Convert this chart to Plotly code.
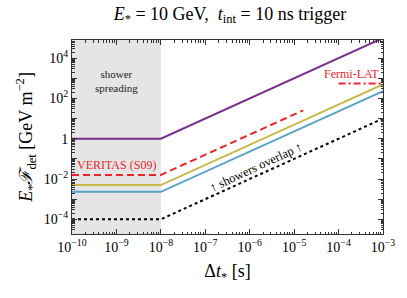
import plotly.graph_objects as go

# ---- data ----
t_nodes = [1e-10, 1e-8, 1e-3]
purple_vals = [1.0, 1.0, 1e5]
yellow_vals = [5e-3, 5e-3, 5e2]
blue_vals = [2.3e-3, 2.3e-3, 2.3e2]
overlap_vals = [1e-4, 1e-4, 10.0]

veritas_t = [1e-10, 1e-8, 1.6e-5]
veritas_vals = [1.6e-2, 1.6e-2, 25.6]

fermi_t = [1e-4, 1e-3]
fermi_vals = [550.0, 550.0]

shade_t = [1e-10, 1e-8]
shade_y = [1e-8, 1e8]

x_tick_exps = [-10, -9, -8, -7, -6, -5, -4, -3]
x_tick_text = ["10<sup>−10</sup>", "10<sup>−9</sup>", "10<sup>−8</sup>", "10<sup>−7</sup>",
               "10<sup>−6</sup>", "10<sup>−5</sup>", "10<sup>−4</sup>", "10<sup>−3</sup>"]
y_tick_exps = [-4, -3, -2, -1, 0, 1, 2, 3, 4]
y_tick_text = ["10<sup>−4</sup>", "", "10<sup>−2</sup>", "", "1", "", "10<sup>2</sup>", "", "10<sup>4</sup>"]

PURPLE = "#7B2D8E"
YELLOW = "#C8B84A"
BLUE = "#5BA3C6"
RED = "#E8262A"
SERIF = "Liberation Serif"

fig = go.Figure()

# shaded "shower spreading" region
fig.add_trace(go.Scatter(
    x=[shade_t[0], shade_t[1], shade_t[1], shade_t[0], shade_t[0]],
    y=[shade_y[0], shade_y[0], shade_y[1], shade_y[1], shade_y[0]],
    fill="toself", fillcolor="#E5E5E5", line=dict(width=0), mode="lines",
    hoverinfo="skip", showlegend=False))

fig.add_trace(go.Scatter(x=t_nodes, y=purple_vals, mode="lines",
                         line=dict(color=PURPLE, width=2), showlegend=False))
fig.add_trace(go.Scatter(x=t_nodes, y=yellow_vals, mode="lines",
                         line=dict(color=YELLOW, width=2), showlegend=False))
fig.add_trace(go.Scatter(x=t_nodes, y=blue_vals, mode="lines",
                         line=dict(color=BLUE, width=2), showlegend=False))
fig.add_trace(go.Scatter(x=t_nodes, y=overlap_vals, mode="lines",
                         line=dict(color="black", width=2, dash="3px,3px"), showlegend=False))
fig.add_trace(go.Scatter(x=veritas_t, y=veritas_vals, mode="lines",
                         line=dict(color=RED, width=2, dash="7px,4px"), showlegend=False))
fig.add_trace(go.Scatter(x=fermi_t, y=fermi_vals, mode="lines",
                         line=dict(color=RED, width=2, dash="7px,3px,2px,3px"), showlegend=False))

minor_x = [m * 10.0 ** e for e in range(-10, -3) for m in range(2, 10)]
minor_y = [m * 10.0 ** e for e in range(-5, 5) for m in range(2, 10)]

axis_common = dict(
    type="log", showgrid=False, zeroline=False,
    showline=True, linecolor="#333333", linewidth=1, mirror="ticks",
    ticks="inside", ticklen=5, tickwidth=1, tickcolor="#333333",
    tickfont=dict(family=SERIF, size=14, color="black"),
)

fig.update_xaxes(
    **axis_common,
    range=[-10, -3],
    tickmode="array",
    tickvals=[10.0 ** e for e in x_tick_exps],
    ticktext=x_tick_text,
    minor=dict(ticks="inside", ticklen=2.5, tickcolor="#333333", tickmode="array", tickvals=minor_x),
    title=dict(text="Δ<i>t</i><sub>*</sub> [s]", font=dict(family=SERIF, size=18, color="black"), standoff=10),
)
fig.update_yaxes(
    **axis_common,
    range=[-4.73, 4.9],
    tickmode="array",
    tickvals=[10.0 ** e for e in y_tick_exps],
    ticktext=y_tick_text,
    minor=dict(ticks="inside", ticklen=2.5, tickcolor="#333333", tickmode="array", tickvals=minor_y),
    title=dict(text="<i>E</i><sub>*</sub><i>ℱ</i><sub>det</sub> [GeV m<sup>−2</sup>]",
               font=dict(family=SERIF, size=18, color="black"), standoff=6),
)

annotations = [
    dict(x=-9.0, y=2.85, text="shower<br>spreading", showarrow=False,
         font=dict(family=SERIF, size=11, color="#222222"), xanchor="center", yanchor="middle"),
    dict(x=-9.93, y=-1.3, text="VERITAS (S09)", showarrow=False,
         font=dict(family=SERIF, size=12, color=RED), xanchor="left", yanchor="middle"),
    dict(x=-3.05, y=3.2, text="Fermi-LAT", showarrow=False,
         font=dict(family=SERIF, size=12, color=RED), xanchor="right", yanchor="middle"),
    dict(x=-5.85, y=-1.42, text="↑ showers overlap ↑", showarrow=False, textangle=-25,
         font=dict(family=SERIF, size=12.5, color="black"), xanchor="center", yanchor="middle"),
]

fig.update_layout(
    width=407, height=298,
    margin=dict(l=72, r=19, t=40, b=64),
    paper_bgcolor="white", plot_bgcolor="white",
    font=dict(family=SERIF),
    title=dict(text="<i>E</i><sub>*</sub> = 10 GeV,  <i>t</i><sub>int</sub> = 10 ns trigger",
               x=0.565, xanchor="center", y=0.955, yanchor="middle",
               font=dict(family=SERIF, size=18, color="black")),
    annotations=annotations,
    showlegend=False,
)

fig.write_html("out.html", config={"displayModeBar": False},
               post_script="document.body.style.margin='0px';")
